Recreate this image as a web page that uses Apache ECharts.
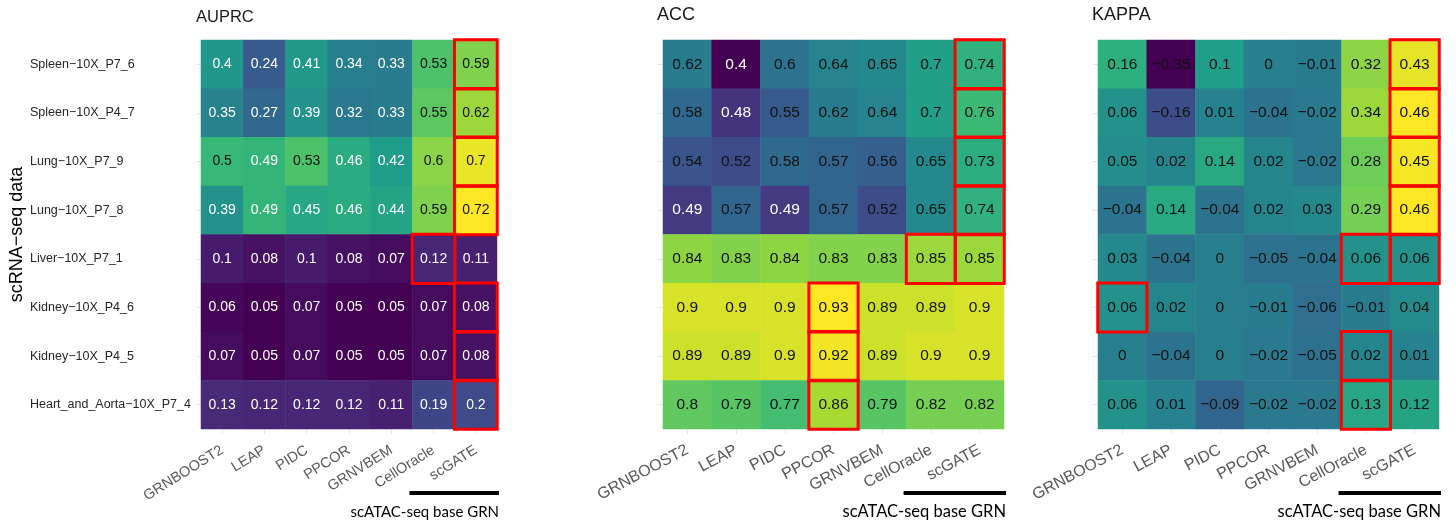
<!DOCTYPE html>
<html>
<head>
<meta charset="utf-8">
<script src="https://cdn.jsdelivr.net/npm/echarts@6/dist/echarts.min.js"></script>
<style>
  html, body { margin: 0; padding: 0; background: #ffffff; }
  #chart { width: 1456px; height: 527px; }
</style>
</head>
<body>
<div id="chart"></div>
<script>
// scRNA-seq datasets (rows) and GRN inference methods (columns)
const datasets = [
  'Spleen-10X_P7_6', 'Spleen-10X_P4_7', 'Lung-10X_P7_9', 'Lung-10X_P7_8',
  'Liver-10X_P7_1', 'Kidney-10X_P4_6', 'Kidney-10X_P4_5', 'Heart_and_Aorta-10X_P7_4'
];
const methods = ['GRNBOOST2', 'LEAP', 'PIDC', 'PPCOR', 'GRNVBEM', 'CellOracle', 'scGATE'];

// one row per dataset, one column per method
const auprc = [
  [0.40, 0.24, 0.41, 0.34, 0.33, 0.53, 0.59],
  [0.35, 0.27, 0.39, 0.32, 0.33, 0.55, 0.62],
  [0.50, 0.49, 0.53, 0.46, 0.42, 0.60, 0.70],
  [0.39, 0.49, 0.45, 0.46, 0.44, 0.59, 0.72],
  [0.10, 0.08, 0.10, 0.08, 0.07, 0.12, 0.11],
  [0.06, 0.05, 0.07, 0.05, 0.05, 0.07, 0.08],
  [0.07, 0.05, 0.07, 0.05, 0.05, 0.07, 0.08],
  [0.13, 0.12, 0.12, 0.12, 0.11, 0.19, 0.20]
];
const acc = [
  [0.62, 0.40, 0.60, 0.64, 0.65, 0.70, 0.74],
  [0.58, 0.48, 0.55, 0.62, 0.64, 0.70, 0.76],
  [0.54, 0.52, 0.58, 0.57, 0.56, 0.65, 0.73],
  [0.49, 0.57, 0.49, 0.57, 0.52, 0.65, 0.74],
  [0.84, 0.83, 0.84, 0.83, 0.83, 0.85, 0.85],
  [0.90, 0.90, 0.90, 0.93, 0.89, 0.89, 0.90],
  [0.89, 0.89, 0.90, 0.92, 0.89, 0.90, 0.90],
  [0.80, 0.79, 0.77, 0.86, 0.79, 0.82, 0.82]
];
const kappa = [
  [0.16, -0.35, 0.10, 0.00, -0.01, 0.32, 0.43],
  [0.06, -0.16, 0.01, -0.04, -0.02, 0.34, 0.46],
  [0.05, 0.02, 0.14, 0.02, -0.02, 0.28, 0.45],
  [-0.04, 0.14, -0.04, 0.02, 0.03, 0.29, 0.46],
  [0.03, -0.04, 0.00, -0.05, -0.04, 0.06, 0.06],
  [0.06, 0.02, 0.00, -0.01, -0.06, -0.01, 0.04],
  [0.00, -0.04, 0.00, -0.02, -0.05, 0.02, 0.01],
  [0.06, 0.01, -0.09, -0.02, -0.02, 0.13, 0.12]
];

const metricNames = ['AUPRC', 'ACC', 'KAPPA'];
const groupLabel = 'scATAC-seq base GRN';

const viridis = ['#440154', '#482878', '#3E4A89', '#31688E', '#26828E',
                 '#1F9E89', '#35B779', '#6DCD59', '#B4DE2C', '#FDE725'];

const FONT = "'Liberation Sans', Arial, sans-serif";

const panels = [
  { name: metricNames[0], values: auprc, whiteBelow: 0.5,
    grid: { left: 201, top: 40, width: 296, height: 389 },
    cellFont: 14, xFont: 14.5, rotate: 32, titleFont: 16.5, titleLeft: 196, titleTop: 9, groupFont: 15 },
  { name: metricNames[1], values: acc, whiteBelow: 0.5,
    grid: { left: 663, top: 40, width: 341, height: 389 },
    cellFont: 15.5, xFont: 16, rotate: 28, titleFont: 18, titleLeft: 657, titleTop: 6, groupFont: 16.5 },
  { name: metricNames[2], values: kappa, whiteBelow: -Infinity,
    grid: { left: 1098, top: 40, width: 341, height: 389 },
    cellFont: 15.5, xFont: 16, rotate: 28, titleFont: 18, titleLeft: 1092, titleTop: 6, groupFont: 16.5 }
];

const fmt = v => String(v).replace('-', '\u2212');

const option = {
  backgroundColor: '#ffffff',
  animation: false,
  textStyle: { fontFamily: FONT },
  title: panels.map(p => ({
    text: p.name, left: p.titleLeft, top: p.titleTop, padding: 0,
    textStyle: { fontFamily: FONT, fontSize: p.titleFont, fontWeight: 'normal', color: '#1a1a1a' }
  })),
  grid: panels.map(p => p.grid),
  xAxis: panels.map((p, i) => ({
    type: 'category', gridIndex: i, data: methods, position: 'bottom',
    axisLine: { show: false },
    axisTick: { show: true, alignWithLabel: true, length: 5, lineStyle: { color: '#e6e6e6' } },
    axisLabel: { rotate: p.rotate, margin: 20, fontSize: p.xFont, color: '#595959', fontFamily: FONT },
    splitLine: { show: false }
  })),
  yAxis: panels.map((p, i) => ({
    type: 'category', gridIndex: i, data: datasets.map(fmt), inverse: true,
    axisLine: { show: false },
    axisTick: { show: true, alignWithLabel: true, length: 5, lineStyle: { color: '#e6e6e6' } },
    axisLabel: i === 0
      ? { show: true, align: 'left', margin: 171, fontSize: 12.5, color: '#262626', fontFamily: FONT }
      : { show: false },
    name: i === 0 ? 'scRNA\u2212seq data' : '',
    nameLocation: 'middle', nameRotate: 90, nameGap: 172,
    nameTextStyle: { fontSize: 18, color: '#000000', fontFamily: FONT },
    splitLine: { show: false }
  })),
  visualMap: panels.map((p, i) => {
    const flat = p.values.flat();
    return {
      type: 'continuous', show: false, seriesIndex: i * 2, dimension: 2,
      min: Math.min(...flat), max: Math.max(...flat),
      inRange: { color: viridis }
    };
  }),
  series: []
};

panels.forEach((p, i) => {
  const cells = [];
  const best = [];
  p.values.forEach((row, r) => {
    const rowMax = Math.max(...row);
    row.forEach((v, c) => {
      cells.push({
        value: [c, r, v],
        label: { color: v < p.whiteBelow ? '#ffffff' : '#111111' }
      });
      if (v === rowMax) best.push([c, r, v]);
    });
  });
  option.series.push({
    type: 'heatmap', xAxisIndex: i, yAxisIndex: i, data: cells,
    label: {
      show: true, fontSize: p.cellFont, fontFamily: FONT,
      formatter: d => fmt(d.value[2])
    },
    itemStyle: { borderWidth: 0 },
    emphasis: { disabled: true }
  });
  // red outline round the best method of each dataset
  option.series.push({
    type: 'heatmap', xAxisIndex: i, yAxisIndex: i, data: best, z: 5,
    label: { show: false },
    itemStyle: { color: 'rgba(0,0,0,0)', borderColor: '#ff0000', borderWidth: 3 },
    emphasis: { disabled: true }
  });
});

const chart = echarts.init(document.getElementById('chart'), null, { renderer: 'canvas' });
chart.setOption(option);

// black bar and caption under the scATAC-seq based methods
const graphics = [];
panels.forEach((p, i) => {
  const c5 = chart.convertToPixel({ xAxisIndex: i }, methods[5]);
  const c6 = chart.convertToPixel({ xAxisIndex: i }, methods[6]);
  const band = c6 - c5;
  const x0 = c5 - band / 2 - 3;
  const x1 = c6 + band / 2 + 2;
  const yBottom = p.grid.top + p.grid.height;
  graphics.push({
    type: 'rect', shape: { x: x0, y: yBottom + 62, width: x1 - x0, height: 4 },
    style: { fill: '#000000' }, silent: true
  });
  graphics.push({
    type: 'text', x: x1, y: yBottom + 83,
    style: { text: groupLabel, align: 'right', verticalAlign: 'middle',
             font: p.groupFont + 'px Lato, "Open Sans", sans-serif', fill: '#000000' },
    silent: true
  });
});
chart.setOption({ graphic: graphics });
</script>
</body>
</html>
